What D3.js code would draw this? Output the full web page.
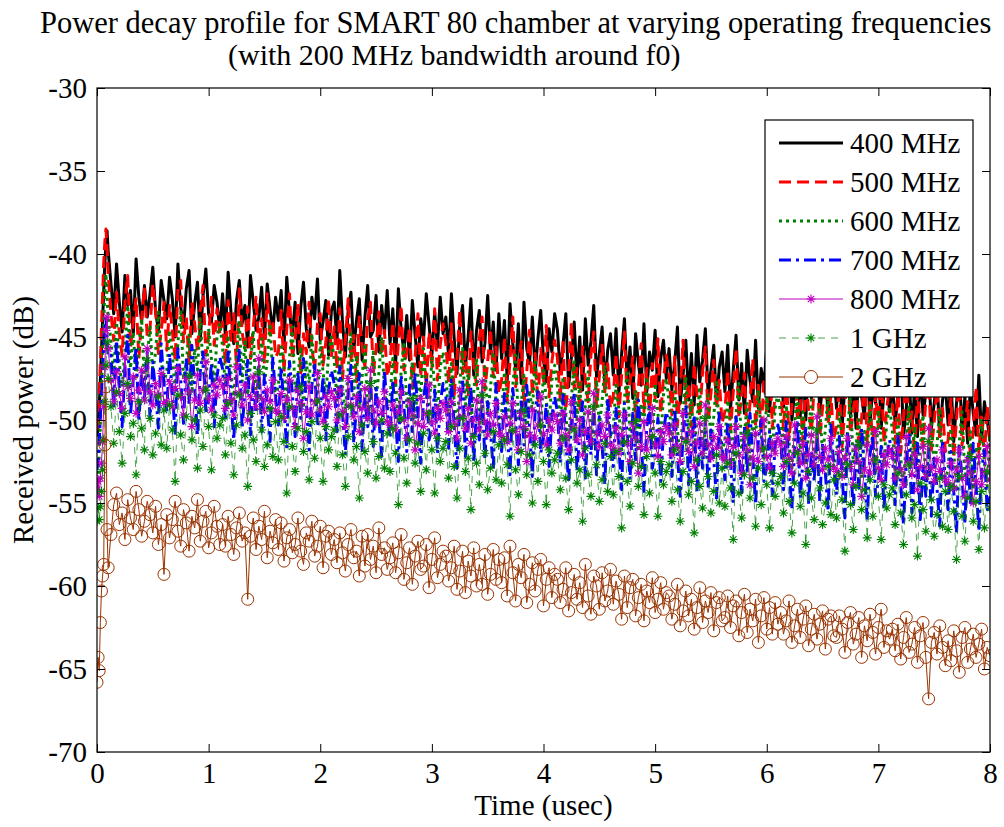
<!DOCTYPE html>
<html>
<head>
<meta charset="utf-8">
<script src="https://cdn.jsdelivr.net/npm/d3@7"></script>
<style>
  body { margin: 0; background: #fff; }
  text { font-family: "Liberation Serif", "Times New Roman", serif; fill: #000; }
</style>
</head>
<body>
<main></main>
<script>
// time samples (usec)
const time = [0, 0.01, 0.02, 0.03, 0.04, 0.05, 0.06, 0.07, 0.08, 0.09, 0.1,
  0.125, 0.15, 0.175, 0.2, 0.225, 0.25, 0.275, 0.3, 0.325, 0.35, 0.375, 0.4, 0.425, 0.45, 0.475, 0.5, 0.525, 0.55, 0.575, 0.6,
  0.625, 0.65, 0.675, 0.7, 0.725, 0.75, 0.775, 0.8, 0.825, 0.85, 0.875, 0.9, 0.925, 0.95, 0.975, 1, 1.025, 1.05, 1.075, 1.1,
  1.125, 1.15, 1.175, 1.2, 1.225, 1.25, 1.275, 1.3, 1.325, 1.35, 1.375, 1.4, 1.425, 1.45, 1.475, 1.5, 1.525, 1.55, 1.575, 1.6,
  1.625, 1.65, 1.675, 1.7, 1.725, 1.75, 1.775, 1.8, 1.825, 1.85, 1.875, 1.9, 1.925, 1.95, 1.975, 2, 2.025, 2.05, 2.075, 2.1,
  2.125, 2.15, 2.175, 2.2, 2.225, 2.25, 2.275, 2.3, 2.325, 2.35, 2.375, 2.4, 2.425, 2.45, 2.475, 2.5, 2.525, 2.55, 2.575, 2.6,
  2.625, 2.65, 2.675, 2.7, 2.725, 2.75, 2.775, 2.8, 2.825, 2.85, 2.875, 2.9, 2.925, 2.95, 2.975, 3, 3.025, 3.05, 3.075, 3.1,
  3.125, 3.15, 3.175, 3.2, 3.225, 3.25, 3.275, 3.3, 3.325, 3.35, 3.375, 3.4, 3.425, 3.45, 3.475, 3.5, 3.525, 3.55, 3.575, 3.6,
  3.625, 3.65, 3.675, 3.7, 3.725, 3.75, 3.775, 3.8, 3.825, 3.85, 3.875, 3.9, 3.925, 3.95, 3.975, 4, 4.025, 4.05, 4.075, 4.1,
  4.125, 4.15, 4.175, 4.2, 4.225, 4.25, 4.275, 4.3, 4.325, 4.35, 4.375, 4.4, 4.425, 4.45, 4.475, 4.5, 4.525, 4.55, 4.575, 4.6,
  4.625, 4.65, 4.675, 4.7, 4.725, 4.75, 4.775, 4.8, 4.825, 4.85, 4.875, 4.9, 4.925, 4.95, 4.975, 5, 5.025, 5.05, 5.075, 5.1,
  5.125, 5.15, 5.175, 5.2, 5.225, 5.25, 5.275, 5.3, 5.325, 5.35, 5.375, 5.4, 5.425, 5.45, 5.475, 5.5, 5.525, 5.55, 5.575, 5.6,
  5.625, 5.65, 5.675, 5.7, 5.725, 5.75, 5.775, 5.8, 5.825, 5.85, 5.875, 5.9, 5.925, 5.95, 5.975, 6, 6.025, 6.05, 6.075, 6.1,
  6.125, 6.15, 6.175, 6.2, 6.225, 6.25, 6.275, 6.3, 6.325, 6.35, 6.375, 6.4, 6.425, 6.45, 6.475, 6.5, 6.525, 6.55, 6.575, 6.6,
  6.625, 6.65, 6.675, 6.7, 6.725, 6.75, 6.775, 6.8, 6.825, 6.85, 6.875, 6.9, 6.925, 6.95, 6.975, 7, 7.025, 7.05, 7.075, 7.1,
  7.125, 7.15, 7.175, 7.2, 7.225, 7.25, 7.275, 7.3, 7.325, 7.35, 7.375, 7.4, 7.425, 7.45, 7.475, 7.5, 7.525, 7.55, 7.575, 7.6,
  7.625, 7.65, 7.675, 7.7, 7.725, 7.75, 7.775, 7.8, 7.825, 7.85, 7.875, 7.9, 7.925, 7.95, 7.975, 8];

// received power (dB), one array per operating frequency
const p400 = [-51.0, -50.4, -49.2, -47.6, -45.8, -44.0, -42.3, -40.6, -39.4, -38.6, -39.8,
  -41.8, -43.6, -40.6, -42.9, -44.7, -41.3, -43.1, -42.2, -44.9, -40.3, -42.6, -44.1, -41.9, -43.8, -42.4, -40.8, -43.5, -44.6, -41.6, -42.8,
  -43.9, -41.4, -42.7, -45.0, -40.6, -43.2, -44.4, -42.1, -41.0, -44.8, -43.0, -41.7, -45.2, -42.5, -40.9, -43.6, -44.1, -41.9, -42.9, -44.6,
  -42.4, -44.9, -41.1, -43.5, -45.4, -42.8, -41.6, -44.2, -43.1, -45.6, -41.3, -42.9, -44.6, -43.8, -42.0, -45.1, -41.8, -43.3, -44.7, -42.6,
  -44.0, -42.2, -45.7, -41.4, -43.6, -44.9, -42.9, -46.0, -43.2, -41.7, -44.5, -45.6, -42.6, -43.9, -41.5, -45.2, -44.1, -42.8, -46.1, -43.4,
  -42.9, -45.3, -41.0, -44.2, -46.2, -43.4, -42.3, -45.8, -44.0, -42.7, -46.4, -43.8, -41.9, -45.0, -44.6, -42.5, -45.9, -43.1, -44.8, -42.2,
  -45.4, -43.3, -46.7, -42.1, -44.6, -45.9, -43.7, -46.4, -42.8, -44.9, -46.8, -43.9, -45.2, -42.4, -44.3, -46.1, -43.5, -45.6, -42.6, -44.8,
  -43.8, -46.2, -42.4, -45.1, -47.2, -44.3, -43.1, -46.8, -45.0, -42.7, -47.3, -44.6, -43.4, -46.5, -45.4, -42.5, -46.0, -44.1, -47.0, -43.6,
  -46.3, -44.0, -47.6, -43.0, -45.4, -46.9, -44.2, -47.8, -42.9, -45.7, -46.6, -43.8, -47.2, -45.1, -43.4, -46.4, -47.7, -44.5, -45.9, -43.6,
  -44.6, -47.1, -45.5, -43.6, -48.0, -46.2, -44.1, -47.6, -45.0, -48.2, -43.9, -46.7, -45.3, -43.1, -47.4, -46.0, -44.4, -48.1, -45.8, -44.8,
  -47.3, -44.5, -48.4, -46.0, -43.9, -47.8, -45.6, -48.7, -44.8, -46.6, -47.9, -44.2, -48.3, -45.9, -47.0, -44.6, -48.6, -46.3, -45.2, -47.5,
  -45.7, -48.2, -46.6, -44.4, -49.0, -47.3, -45.2, -48.8, -46.0, -49.1, -44.9, -47.7, -46.4, -44.5, -48.5, -47.0, -45.5, -49.0, -46.8, -45.9,
  -48.3, -45.5, -49.4, -47.0, -44.9, -48.8, -46.6, -49.6, -45.8, -47.6, -48.9, -45.2, -49.3, -46.9, -48.0, -45.6, -49.5, -47.3, -46.2, -48.5,
  -46.7, -49.2, -47.6, -45.4, -50.0, -48.3, -46.2, -49.8, -47.0, -50.0, -45.9, -48.7, -47.4, -45.6, -49.5, -48.0, -46.5, -50.0, -47.8, -46.9,
  -49.3, -46.5, -50.4, -48.0, -45.9, -49.8, -47.6, -50.5, -46.8, -48.6, -49.9, -46.2, -50.3, -47.9, -49.0, -46.6, -50.5, -48.3, -47.2, -49.5,
  -47.7, -50.2, -48.6, -46.4, -51.0, -49.3, -47.2, -50.8, -48.0, -51.0, -46.9, -49.7, -48.4, -46.6, -50.5, -49.0, -47.5, -51.0, -48.8, -47.9,
  -50.3, -47.5, -51.3, -49.0, -46.9, -50.8, -48.6, -51.4, -47.8, -49.6, -50.9, -47.3, -51.2, -48.9, -50.0, -51.3];

const p500 = [-50.6, -50.0, -48.5, -46.6, -44.4, -42.5, -40.6, -39.3, -38.5, -39.6, -41.2,
  -43.6, -45.2, -42.3, -44.8, -46.1, -43.0, -41.3, -45.6, -44.1, -42.7, -46.3, -43.9, -42.0, -45.0, -44.5, -41.8, -43.4, -46.0, -44.7, -42.9,
  -45.8, -43.1, -44.6, -46.4, -42.2, -41.6, -45.3, -43.8, -46.6, -42.9, -44.2, -45.9, -43.4, -41.9, -46.1, -44.9, -42.6, -45.5, -43.3, -44.8,
  -44.1, -46.7, -42.8, -45.2, -43.6, -46.9, -42.1, -44.7, -45.8, -43.2, -46.3, -44.4, -42.6, -45.7, -43.9, -46.6, -42.4, -45.0, -44.0, -46.2,
  -45.9, -43.4, -47.1, -44.5, -42.4, -46.3, -45.1, -43.0, -47.3, -44.8, -46.0, -42.9, -45.6, -47.0, -44.2, -43.6, -46.7, -45.3, -42.7, -46.2,
  -44.4, -46.9, -43.3, -47.5, -45.2, -42.7, -46.4, -44.9, -47.7, -43.8, -45.6, -46.8, -44.0, -42.9, -47.2, -45.7, -43.5, -46.1, -44.6, -47.4,
  -46.6, -44.1, -47.9, -45.3, -43.1, -47.0, -45.8, -44.4, -48.1, -46.2, -43.6, -47.4, -45.0, -48.0, -44.7, -46.9, -43.3, -47.6, -45.5, -44.2,
  -45.4, -47.8, -44.2, -48.5, -46.3, -43.4, -47.2, -45.9, -48.6, -44.7, -46.7, -47.9, -45.1, -43.8, -48.2, -46.5, -44.5, -47.4, -45.6, -48.4,
  -47.6, -45.0, -48.9, -46.4, -43.8, -48.0, -46.8, -45.3, -49.1, -47.1, -44.6, -48.5, -46.0, -49.0, -45.7, -47.8, -44.3, -48.6, -46.5, -45.2,
  -46.3, -48.8, -45.2, -49.4, -47.2, -44.1, -48.1, -46.9, -49.5, -45.6, -47.6, -48.9, -46.1, -44.7, -49.2, -47.4, -45.5, -48.3, -46.6, -49.3,
  -48.6, -46.0, -49.8, -47.3, -44.7, -49.0, -47.7, -46.2, -50.0, -48.1, -45.4, -49.5, -46.9, -49.9, -46.6, -48.7, -45.1, -49.6, -47.5, -46.1,
  -47.3, -49.7, -46.2, -50.3, -48.2, -45.2, -49.1, -47.8, -50.4, -46.6, -48.5, -49.8, -47.1, -45.6, -50.1, -48.4, -46.4, -49.3, -47.6, -50.2,
  -49.5, -47.0, -50.7, -48.3, -45.7, -49.9, -48.6, -47.2, -50.9, -49.0, -46.3, -50.4, -47.9, -50.8, -47.5, -49.6, -46.0, -50.5, -48.4, -47.1,
  -48.1, -50.6, -47.1, -51.2, -49.1, -46.2, -50.0, -48.7, -51.3, -47.5, -49.4, -50.7, -48.0, -46.5, -51.0, -49.3, -47.3, -50.2, -48.5, -51.1,
  -50.4, -47.9, -51.6, -49.2, -46.6, -50.8, -49.5, -48.1, -51.7, -49.9, -47.2, -51.3, -48.8, -51.6, -48.4, -50.5, -46.9, -51.4, -49.3, -48.0,
  -48.9, -51.4, -47.9, -52.0, -49.9, -47.0, -50.8, -49.5, -52.1, -48.3, -50.2, -51.5, -48.8, -47.3, -51.8, -50.1, -48.1, -51.0, -49.3, -51.9,
  -51.2, -48.7, -52.3, -50.0, -47.4, -51.5, -50.3, -48.9, -52.4, -50.6, -48.0, -52.0, -49.6, -52.2, -49.2, -51.0];

const p600 = [-54.5, -53.6, -52.1, -50.3, -48.2, -46.1, -44.0, -42.3, -41.2, -42.6, -43.8,
  -45.2, -47.3, -44.1, -46.6, -48.0, -45.8, -43.1, -46.9, -44.7, -47.6, -45.4, -43.9, -47.9, -46.2, -44.4, -47.1, -45.9, -43.5, -46.4, -47.7,
  -47.1, -44.6, -46.0, -48.3, -45.3, -43.5, -47.5, -46.5, -44.8, -48.4, -45.7, -47.0, -43.9, -46.8, -48.1, -44.5, -46.3, -47.8, -45.0, -44.2,
  -45.6, -48.0, -44.9, -47.2, -48.8, -46.1, -44.0, -47.7, -45.3, -48.5, -46.6, -44.6, -48.9, -47.0, -45.1, -47.9, -46.4, -44.2, -47.4, -48.6,
  -47.9, -45.4, -46.9, -49.2, -46.2, -44.4, -48.3, -47.4, -45.6, -49.3, -46.5, -47.8, -44.8, -47.6, -49.0, -45.3, -47.1, -48.7, -45.9, -45.0,
  -46.4, -48.8, -45.7, -48.0, -49.6, -46.9, -44.8, -48.5, -46.1, -49.3, -47.4, -45.4, -49.7, -47.8, -45.9, -48.7, -47.2, -45.0, -48.2, -49.4,
  -48.7, -46.3, -47.7, -50.1, -47.0, -45.3, -49.2, -48.2, -46.5, -50.2, -47.3, -48.6, -45.7, -48.4, -49.9, -46.2, -47.9, -49.6, -46.8, -45.9,
  -47.2, -49.7, -46.6, -48.9, -50.5, -47.8, -45.7, -49.3, -47.0, -50.2, -48.3, -46.3, -50.6, -48.6, -46.8, -49.6, -48.1, -45.9, -49.0, -50.3,
  -49.6, -47.1, -48.5, -50.9, -47.9, -46.1, -50.1, -49.1, -47.3, -51.0, -48.2, -49.5, -46.5, -49.3, -50.8, -47.0, -48.8, -50.4, -47.6, -46.7,
  -48.0, -50.5, -47.4, -49.8, -51.3, -48.7, -46.5, -50.1, -47.8, -51.0, -49.1, -47.1, -51.4, -49.5, -47.6, -50.4, -48.9, -46.7, -49.8, -51.1,
  -50.4, -47.9, -49.4, -51.8, -48.7, -47.0, -51.0, -49.9, -48.2, -51.9, -49.0, -50.3, -47.4, -50.1, -51.6, -47.8, -49.6, -51.2, -48.5, -47.5,
  -48.9, -51.4, -48.3, -50.6, -52.2, -49.5, -47.4, -51.0, -48.7, -51.9, -50.0, -48.0, -52.3, -50.3, -48.5, -51.3, -49.8, -47.6, -50.7, -52.0,
  -51.2, -48.8, -50.2, -52.6, -49.6, -47.8, -51.8, -50.8, -49.0, -52.7, -49.9, -51.1, -48.2, -50.9, -52.4, -48.6, -50.5, -52.0, -49.3, -48.4,
  -49.7, -52.2, -49.1, -51.4, -53.0, -50.3, -48.2, -51.8, -49.5, -52.7, -50.8, -48.8, -53.1, -51.2, -49.3, -52.1, -50.6, -48.4, -51.5, -52.8,
  -52.0, -49.6, -51.0, -53.4, -50.4, -48.6, -52.6, -51.6, -49.8, -53.5, -50.7, -51.9, -49.0, -51.7, -53.2, -49.4, -51.3, -52.8, -50.1, -49.2,
  -50.6, -53.1, -50.0, -52.3, -53.9, -51.2, -49.1, -52.7, -50.4, -53.6, -51.7, -49.7, -54.0, -52.1, -50.2, -53.0, -51.5, -49.3, -52.4, -53.7,
  -52.9, -50.5, -51.9, -54.3, -51.3, -49.5, -53.5, -52.5, -50.7, -54.2, -51.6, -52.8, -49.9, -52.6, -54.0, -50.8];

const p700 = [-53.0, -52.4, -51.3, -49.8, -48.2, -46.9, -45.6, -44.5, -43.9, -45.0, -46.2,
  -46.1, -49.3, -45.2, -48.0, -50.4, -46.8, -44.9, -49.7, -47.5, -45.6, -50.1, -47.0, -48.8, -45.9, -49.9, -46.5, -48.3, -50.5, -45.4, -47.8,
  -49.5, -46.0, -48.4, -50.8, -45.7, -47.6, -50.2, -46.3, -49.1, -45.5, -48.0, -50.9, -47.1, -45.9, -49.6, -48.7, -46.6, -50.4, -47.4, -46.2,
  -46.9, -50.1, -45.9, -48.8, -51.2, -47.6, -45.8, -50.5, -48.3, -46.4, -50.9, -47.8, -49.6, -46.7, -50.7, -47.3, -49.1, -51.3, -46.2, -48.6,
  -50.3, -46.8, -49.2, -51.7, -46.5, -48.4, -51.0, -47.1, -49.9, -46.3, -48.8, -51.8, -47.9, -46.7, -50.4, -49.5, -47.4, -51.2, -48.2, -47.0,
  -47.8, -50.9, -46.8, -49.6, -52.1, -48.4, -46.7, -51.4, -49.1, -47.2, -51.8, -48.6, -50.4, -47.5, -51.6, -48.1, -49.9, -52.2, -47.0, -49.4,
  -51.1, -47.6, -50.0, -52.5, -47.3, -49.2, -51.9, -47.9, -50.7, -47.1, -49.6, -52.6, -48.7, -47.5, -51.2, -50.3, -48.2, -52.0, -49.0, -47.8,
  -48.6, -51.7, -47.6, -50.4, -52.9, -49.2, -47.5, -52.2, -49.9, -48.0, -52.6, -49.4, -51.2, -48.3, -52.4, -48.9, -50.7, -53.0, -47.8, -50.2,
  -51.9, -48.4, -50.8, -53.3, -48.1, -50.0, -52.7, -48.7, -51.5, -47.9, -50.4, -53.4, -49.5, -48.3, -52.0, -51.1, -49.0, -52.8, -49.8, -48.6,
  -49.5, -52.6, -48.5, -51.3, -53.8, -50.1, -48.4, -53.1, -50.8, -48.9, -53.5, -50.3, -52.1, -49.2, -53.3, -49.8, -51.6, -53.9, -48.7, -51.1,
  -52.8, -49.3, -51.7, -54.2, -49.0, -50.9, -53.6, -49.6, -52.4, -48.8, -51.3, -54.3, -50.4, -49.2, -52.9, -52.0, -49.9, -53.7, -50.7, -49.5,
  -50.3, -53.4, -49.3, -52.1, -54.6, -50.9, -49.2, -53.9, -51.6, -49.7, -54.3, -51.1, -52.9, -50.0, -54.1, -50.6, -52.4, -54.7, -49.5, -51.9,
  -53.6, -50.1, -52.5, -55.0, -49.8, -51.7, -54.4, -50.4, -53.2, -49.6, -52.1, -55.1, -51.2, -50.0, -53.7, -52.8, -50.7, -54.5, -51.5, -50.3,
  -51.1, -54.2, -50.1, -52.9, -55.4, -51.7, -50.0, -54.7, -52.4, -50.5, -55.1, -51.9, -53.7, -50.8, -54.9, -51.4, -53.2, -55.5, -50.3, -52.7,
  -54.5, -51.0, -53.4, -55.9, -50.7, -52.6, -55.3, -51.3, -54.1, -50.5, -53.0, -56.0, -52.1, -50.9, -54.6, -53.7, -51.6, -55.4, -52.4, -51.2,
  -52.0, -55.1, -51.0, -53.8, -56.3, -52.6, -50.9, -55.6, -53.3, -51.4, -56.0, -52.8, -54.6, -51.7, -55.8, -52.3, -54.1, -56.4, -51.2, -53.6,
  -55.4, -51.9, -54.3, -56.8, -51.6, -53.5, -56.2, -52.2, -55.0, -51.4, -53.9, -56.7, -53.0, -51.8, -55.5, -54.6];

const p800 = [-54.2, -53.7, -54.6, -53.5, -52.6, -51.3, -49.2, -46.8, -44.6, -43.8, -45.7,
  -47.6, -48.9, -47.1, -48.4, -49.3, -46.2, -48.0, -48.7, -47.4, -49.6, -48.2, -47.0, -48.8, -45.7, -48.3, -49.1, -47.8, -48.5, -47.2, -49.0,
  -48.9, -47.7, -49.2, -48.1, -46.9, -48.6, -49.7, -47.5, -48.3, -50.4, -48.8, -47.3, -49.0, -48.2, -46.5, -48.7, -49.4, -47.9, -48.5, -47.6,
  -48.0, -49.3, -47.5, -48.8, -49.7, -46.8, -48.4, -49.1, -47.9, -50.0, -48.6, -47.4, -49.2, -46.3, -48.7, -49.5, -48.2, -48.9, -47.6, -49.4,
  -49.6, -48.4, -49.9, -48.8, -47.6, -49.3, -50.4, -48.2, -49.0, -51.1, -49.5, -48.0, -49.7, -48.9, -47.2, -49.4, -50.1, -48.6, -49.2, -48.3,
  -48.7, -50.0, -48.2, -49.5, -50.4, -47.5, -49.1, -49.8, -48.6, -50.7, -49.3, -48.1, -49.9, -47.0, -49.4, -50.2, -48.9, -49.6, -48.3, -50.1,
  -50.3, -49.1, -50.6, -49.5, -48.3, -50.0, -51.1, -48.9, -49.7, -51.8, -50.2, -48.7, -50.4, -49.6, -47.9, -50.1, -50.8, -49.3, -49.9, -49.0,
  -49.4, -50.7, -48.9, -50.2, -51.1, -48.2, -49.8, -50.5, -49.3, -51.4, -50.0, -48.8, -50.6, -47.7, -50.1, -50.9, -49.6, -50.3, -49.0, -50.8,
  -51.0, -49.8, -51.3, -50.2, -49.0, -50.7, -51.8, -49.6, -50.4, -52.5, -50.9, -49.4, -51.1, -50.3, -48.6, -50.8, -51.5, -50.0, -50.6, -49.7,
  -50.1, -51.4, -49.6, -50.9, -51.8, -48.9, -50.5, -51.2, -50.0, -52.1, -50.7, -49.5, -51.3, -48.4, -50.8, -51.6, -50.3, -51.0, -49.7, -51.5,
  -51.7, -50.5, -52.0, -50.9, -49.7, -51.4, -52.5, -50.3, -51.1, -53.2, -51.6, -50.1, -51.8, -51.0, -49.3, -51.5, -52.2, -50.7, -51.3, -50.4,
  -50.8, -52.1, -50.3, -51.6, -52.5, -49.6, -51.2, -51.9, -50.7, -52.8, -51.4, -50.2, -52.0, -49.1, -51.5, -52.3, -51.0, -51.7, -50.4, -52.2,
  -52.4, -51.2, -52.7, -51.6, -50.4, -52.1, -53.2, -51.0, -51.8, -53.9, -52.3, -50.8, -52.5, -51.7, -50.0, -52.2, -52.9, -51.4, -52.0, -51.1,
  -51.5, -52.8, -51.0, -52.3, -53.2, -50.3, -51.9, -52.6, -51.4, -53.5, -52.1, -50.9, -52.7, -49.8, -52.2, -53.0, -51.7, -52.4, -51.1, -52.9,
  -53.1, -51.9, -53.4, -52.3, -51.1, -52.8, -53.9, -51.7, -52.5, -54.6, -53.0, -51.5, -53.2, -52.4, -50.7, -52.9, -53.6, -52.1, -52.7, -51.8,
  -52.2, -53.5, -51.7, -53.0, -53.9, -51.0, -52.6, -53.3, -52.1, -54.2, -52.8, -51.6, -53.4, -50.5, -52.9, -53.7, -52.4, -53.1, -51.8, -53.6,
  -53.8, -52.6, -54.1, -53.0, -51.8, -53.5, -54.6, -52.4, -53.2, -55.0, -53.7, -52.2, -53.9, -53.1, -51.6, -53.6];

const p1000 = [-56.1, -55.3, -56.0, -55.2, -54.3, -53.0, -51.2, -48.9, -46.7, -45.3, -47.5,
  -49.2, -51.4, -48.3, -50.7, -52.6, -49.6, -47.8, -51.0, -50.2, -53.3, -48.9, -50.5, -51.8, -46.4, -49.9, -52.1, -50.8, -48.6, -51.5, -49.4,
  -51.7, -49.1, -50.6, -53.7, -48.5, -50.9, -52.4, -49.8, -47.3, -51.2, -50.0, -52.9, -49.4, -51.6, -48.2, -50.4, -53.0, -49.7, -51.1, -50.3,
  -49.9, -52.1, -49.0, -51.4, -53.3, -50.3, -48.5, -51.7, -50.9, -54.0, -49.6, -51.2, -52.5, -47.1, -50.6, -52.8, -51.5, -49.3, -52.2, -50.1,
  -52.4, -49.8, -51.3, -54.4, -49.2, -51.6, -53.1, -50.5, -48.0, -51.9, -50.7, -53.6, -50.1, -52.3, -48.9, -51.1, -53.7, -50.4, -51.8, -51.0,
  -50.6, -52.8, -49.7, -52.1, -54.0, -51.0, -49.2, -52.4, -51.6, -54.7, -50.3, -51.9, -53.2, -47.8, -51.3, -53.5, -52.2, -50.0, -52.9, -50.8,
  -53.1, -50.5, -52.0, -55.1, -49.9, -52.3, -53.8, -51.2, -48.7, -52.6, -51.4, -54.3, -50.8, -53.0, -49.6, -51.8, -54.4, -51.1, -52.5, -51.7,
  -51.3, -53.5, -50.4, -52.8, -54.7, -51.7, -49.9, -53.1, -52.3, -55.4, -51.0, -52.6, -53.9, -48.5, -52.0, -54.2, -52.9, -50.7, -53.6, -51.5,
  -53.8, -51.2, -52.7, -55.8, -50.6, -53.0, -54.5, -51.9, -49.4, -53.3, -52.1, -55.0, -51.5, -53.7, -50.3, -52.5, -55.1, -51.8, -53.2, -52.4,
  -52.0, -54.2, -51.1, -53.5, -55.4, -52.4, -50.6, -53.8, -53.0, -56.1, -51.7, -53.3, -54.6, -49.2, -52.7, -54.9, -53.6, -51.4, -54.3, -52.2,
  -54.5, -51.9, -53.4, -56.5, -51.3, -53.7, -55.2, -52.6, -50.1, -54.0, -52.8, -55.7, -52.2, -54.4, -51.0, -53.2, -55.8, -52.5, -53.9, -53.1,
  -52.7, -54.9, -51.8, -54.2, -56.1, -53.1, -51.3, -54.5, -53.7, -56.8, -52.4, -54.0, -55.3, -49.9, -53.4, -55.6, -54.3, -52.1, -55.0, -52.9,
  -55.2, -52.6, -54.1, -57.2, -52.0, -54.4, -55.9, -53.3, -50.8, -54.7, -53.5, -56.4, -52.9, -55.1, -51.7, -53.9, -56.5, -53.2, -54.6, -53.8,
  -53.4, -55.6, -52.5, -54.9, -56.8, -53.8, -52.0, -55.2, -54.4, -57.5, -53.1, -54.7, -56.0, -50.6, -54.1, -56.3, -55.0, -52.8, -55.7, -53.6,
  -55.9, -53.3, -54.8, -57.9, -52.7, -55.1, -56.6, -54.0, -51.5, -55.4, -54.2, -57.1, -53.6, -55.8, -52.4, -54.6, -57.2, -53.9, -55.3, -54.5,
  -54.1, -56.3, -53.2, -55.6, -57.5, -54.5, -52.7, -55.9, -55.1, -58.2, -53.8, -55.4, -56.7, -51.3, -54.8, -57.0, -55.7, -53.5, -56.4, -54.3,
  -56.6, -54.0, -55.5, -58.4, -53.4, -55.8, -57.3, -54.7, -52.2, -56.1, -54.9, -57.8, -54.3, -56.5, -53.1, -55.3];

const p2000 = [-65.8, -64.3, -65.1, -62.2, -60.3, -59.4, -58.7, -51.5, -48.0, -56.6, -58.9,
  -56.9, -55.1, -54.4, -56.3, -55.6, -57.2, -54.8, -55.9, -56.6, -54.3, -55.4, -57.0, -56.1, -54.9, -55.7, -56.8, -55.2, -57.5, -56.3, -59.3,
  -55.7, -57.1, -56.0, -54.9, -56.7, -57.6, -55.4, -56.2, -57.9, -55.8, -56.5, -54.8, -57.3, -56.1, -55.5, -57.7, -56.8, -55.2, -56.4, -57.5,
  -56.3, -57.6, -55.8, -56.9, -58.1, -56.5, -55.6, -57.3, -56.8, -60.8, -57.0, -55.9, -57.8, -56.4, -57.2, -55.5, -58.3, -56.7, -57.4, -56.0,
  -57.8, -56.2, -58.5, -57.1, -56.6, -58.0, -57.5, -55.9, -57.9, -58.7, -56.8, -57.3, -56.1, -58.2, -57.6, -56.4, -58.9, -57.0, -56.7, -58.1,
  -57.2, -58.6, -56.8, -58.0, -59.1, -57.5, -56.6, -58.3, -57.9, -59.4, -57.0, -58.8, -56.9, -58.4, -57.6, -59.2, -56.5, -58.1, -57.7, -59.0,
  -58.3, -57.4, -59.2, -58.0, -56.9, -59.6, -58.6, -57.7, -59.9, -58.2, -57.3, -59.0, -58.8, -57.5, -60.1, -58.4, -57.1, -59.5, -58.7, -57.9,
  -58.2, -59.7, -58.9, -57.6, -60.2, -59.1, -57.9, -60.4, -58.5, -59.4, -57.7, -60.0, -58.7, -59.9, -58.1, -60.5, -59.3, -57.8, -59.6, -58.4,
  -59.8, -58.3, -60.6, -57.6, -59.2, -60.9, -58.7, -59.5, -58.1, -61.0, -59.9, -58.6, -60.3, -59.0, -58.4, -61.2, -59.6, -58.9, -60.7, -59.3,
  -59.6, -61.0, -60.2, -58.9, -61.5, -60.4, -59.3, -60.8, -59.8, -61.3, -58.7, -60.6, -61.7, -59.4, -60.0, -61.4, -59.2, -60.9, -60.3, -59.0,
  -61.1, -59.7, -60.5, -62.0, -59.4, -61.3, -60.1, -59.6, -61.8, -60.7, -59.9, -62.1, -60.3, -61.0, -59.5, -61.6, -60.8, -59.8, -61.4, -60.4,
  -60.6, -62.0, -61.1, -59.9, -62.4, -61.5, -60.3, -61.8, -60.8, -62.6, -61.3, -60.1, -62.2, -60.9, -61.6, -60.4, -62.7, -61.0, -60.7, -62.1,
  -61.9, -60.6, -62.5, -61.2, -60.9, -63.0, -61.6, -60.5, -62.8, -61.4, -62.1, -60.8, -63.4, -61.8, -60.7, -62.6, -61.3, -62.9, -61.0, -62.3,
  -61.6, -62.9, -62.1, -60.9, -63.4, -62.4, -61.4, -63.1, -62.0, -61.2, -63.6, -62.6, -61.7, -63.2, -62.3, -61.5, -63.8, -62.0, -61.8, -63.0,
  -63.1, -61.8, -62.6, -64.0, -62.2, -61.6, -63.5, -62.9, -61.9, -64.3, -62.4, -63.3, -61.7, -62.8, -64.1, -62.5, -61.4, -63.7, -62.7, -63.2,
  -62.6, -63.9, -62.3, -64.4, -63.1, -61.9, -64.0, -63.5, -62.5, -64.6, -63.0, -62.2, -64.3, -66.8, -63.4, -62.8, -64.1, -62.4, -63.7, -64.8,
  -63.3, -64.5, -62.7, -63.9, -65.2, -63.1, -62.5, -64.6, -63.8, -62.9, -64.3, -63.5, -62.6, -65.0, -63.7, -64.2];

const seriesNames = ["400 MHz", "500 MHz", "600 MHz", "700 MHz", "800 MHz", "1 GHz", "2 GHz"];
const xTicks = [0, 1, 2, 3, 4, 5, 6, 7, 8];
const yTicks = [-70, -65, -60, -55, -50, -45, -40, -35, -30];

const drawChart = () => {

    const outerWidth = 1004,
        outerHeight = 827,
        margin = {top: 88, right: 14, bottom: 75, left: 97},
        width = outerWidth - margin.left - margin.right,
        height = outerHeight - margin.top - margin.bottom;

    const styles = [
        {values: p400, color: "#000000", width: 3, dash: null, marker: null, lineOpacity: 1},
        {values: p500, color: "#ff0000", width: 3, dash: "12,6", marker: null, lineOpacity: 1},
        {values: p600, color: "#008000", width: 3, dash: "3,4", marker: null, lineOpacity: 1},
        {values: p700, color: "#0000ff", width: 3, dash: "12,5,3,5", marker: null, lineOpacity: 1},
        {values: p800, color: "#bf00bf", width: 1, dash: null, marker: "star", lineOpacity: 1},
        {values: p1000, color: "#008000", width: 1, dash: "7,6", marker: "star", lineOpacity: 0.7},
        {values: p2000, color: "#993300", width: 1, dash: null, marker: "circle", lineOpacity: 1}
    ];

    const svg = d3.select("main").append("svg")
        .attr("width", outerWidth)
        .attr("height", outerHeight)
        .style("display", "block");

    svg.append("rect")
        .attr("width", outerWidth)
        .attr("height", outerHeight)
        .attr("fill", "#fff");

    const g = svg.append("g")
        .attr("transform", "translate(" + margin.left + "," + margin.top + ")");

    const xScale = d3.scaleLinear().domain([0, 8]).range([0, width]);
    const yScale = d3.scaleLinear().domain([-70, -30]).range([height, 0]);

    svg.append("defs").append("clipPath")
        .attr("id", "plotclip")
        .append("rect")
        .attr("width", width)
        .attr("height", height);

    const starPath = "M-4.5,0H4.5M0,-4.5V4.5M-3.2,-3.2L3.2,3.2M-3.2,3.2L3.2,-3.2";

    const line = d3.line()
        .defined((d) => d != null)
        .x((d, i) => xScale(time[i]))
        .y((d) => yScale(d));

    const plot = g.append("g").attr("clip-path", "url(#plotclip)");

    styles.forEach((s) => {
        plot.append("path")
            .datum(s.values)
            .attr("fill", "none")
            .attr("stroke", s.color)
            .attr("stroke-opacity", s.lineOpacity)
            .attr("stroke-width", s.width)
            .attr("stroke-dasharray", s.dash)
            .attr("stroke-linejoin", "round")
            .attr("d", line);

        if (s.marker === "star") {
            plot.append("g").selectAll("path")
                .data(s.values)
                .enter()
                .append("path")
                .attr("transform", (d, i) => "translate(" + xScale(time[i]) + "," + yScale(d) + ")")
                .attr("d", starPath)
                .attr("fill", "none")
                .attr("stroke", s.color)
                .attr("stroke-width", 1.1);
        }
        if (s.marker === "circle") {
            plot.append("g").selectAll("circle")
                .data(s.values)
                .enter()
                .append("circle")
                .attr("cx", (d, i) => xScale(time[i]))
                .attr("cy", (d) => yScale(d))
                .attr("r", 6)
                .attr("fill", "none")
                .attr("stroke", s.color)
                .attr("stroke-width", 1);
        }
    });

    // axes, ticks pointing inward on all four sides
    const fontSize = 29;
    const xAxis = d3.axisBottom(xScale).tickValues(xTicks).tickSize(-8).tickPadding(10)
        .tickFormat((d) => String(d));
    const yAxis = d3.axisLeft(yScale).tickValues(yTicks).tickSize(-8).tickPadding(10)
        .tickFormat((d) => String(d));

    const gx = g.append("g")
        .attr("transform", "translate(0," + height + ")")
        .call(xAxis);
    const gy = g.append("g").call(yAxis);

    g.append("g")
        .call(d3.axisTop(xScale).tickValues(xTicks).tickSize(-8).tickFormat(""));
    g.append("g")
        .attr("transform", "translate(" + width + ",0)")
        .call(d3.axisRight(yScale).tickValues(yTicks).tickSize(-8).tickFormat(""));

    g.selectAll(".domain").remove();
    g.selectAll(".tick line").attr("stroke", "#000").attr("stroke-width", 1);
    [gx, gy].forEach((a) => a.selectAll("text")
        .attr("font-family", "Liberation Serif")
        .attr("font-size", fontSize)
        .attr("fill", "#000"));

    g.append("rect")
        .attr("width", width)
        .attr("height", height)
        .attr("fill", "none")
        .attr("stroke", "#000")
        .attr("stroke-width", 1.2);

    // titles and labels
    svg.append("text")
        .attr("x", 40)
        .attr("y", 33)
        .attr("font-size", 30.5)
        .text("Power decay profile for SMART 80 chamber at varying operating frequencies");
    svg.append("text")
        .attr("x", 228)
        .attr("y", 65)
        .attr("font-size", 30)
        .text("(with 200 MHz bandwidth around f0)");

    svg.append("text")
        .attr("x", margin.left + width / 2)
        .attr("y", 815)
        .attr("text-anchor", "middle")
        .attr("font-size", fontSize)
        .text("Time (usec)");

    svg.append("text")
        .attr("transform", "translate(33," + (margin.top + height / 2) + ") rotate(-90)")
        .attr("text-anchor", "middle")
        .attr("font-size", fontSize)
        .text("Received power (dB)");

    // legend
    const legend = svg.append("g").attr("transform", "translate(765,120)");
    legend.append("rect")
        .attr("width", 208)
        .attr("height", 277)
        .attr("fill", "#fff")
        .attr("stroke", "#000")
        .attr("stroke-width", 1.2);

    const rowH = 39;
    const items = legend.selectAll(".item")
        .data(styles)
        .enter()
        .append("g")
        .attr("class", "item")
        .attr("transform", (d, i) => "translate(0," + (23 + i * rowH) + ")");

    items.append("line")
        .attr("x1", 14)
        .attr("x2", 78)
        .attr("stroke", (d) => d.color)
        .attr("stroke-opacity", (d) => d.lineOpacity)
        .attr("stroke-width", (d) => d.width)
        .attr("stroke-dasharray", (d) => d.dash);

    items.filter((d) => d.marker === "star")
        .append("path")
        .attr("transform", "translate(46,0)")
        .attr("d", starPath)
        .attr("fill", "none")
        .attr("stroke", (d) => d.color)
        .attr("stroke-width", 1.1);

    items.filter((d) => d.marker === "circle")
        .append("circle")
        .attr("cx", 46)
        .attr("r", 6.5)
        .attr("fill", "#fff")
        .attr("stroke", (d) => d.color);

    items.append("text")
        .attr("x", 85)
        .attr("dy", "0.34em")
        .attr("font-size", fontSize)
        .text((d, i) => seriesNames[i]);
}

drawChart();
</script>
</body>
</html>
